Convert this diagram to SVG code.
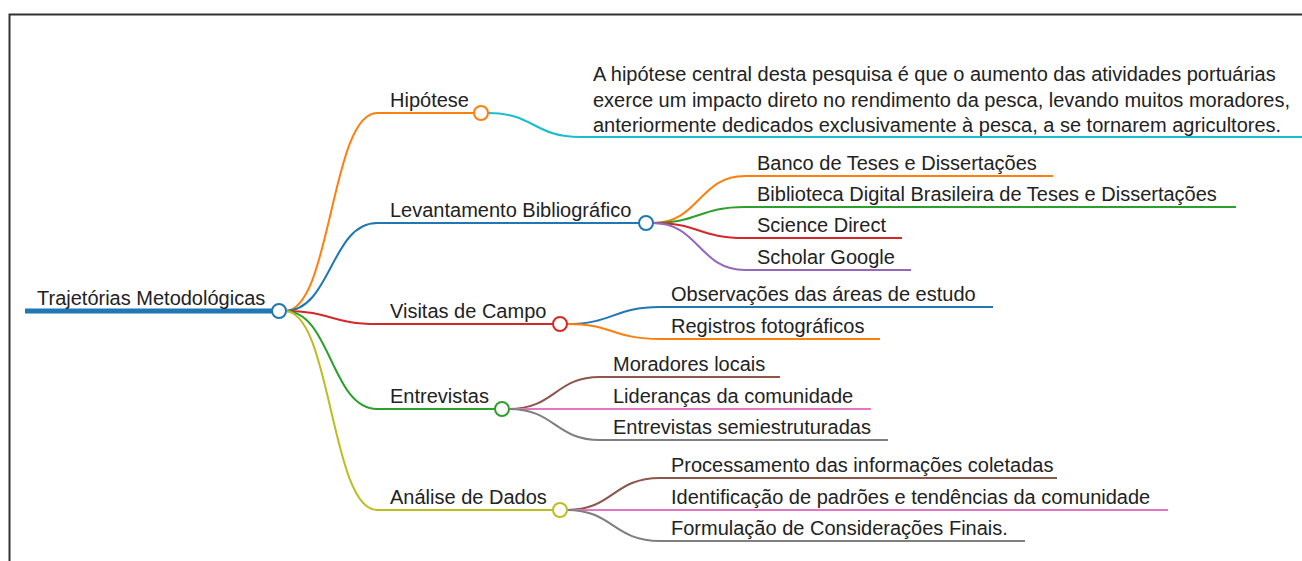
<svg xmlns="http://www.w3.org/2000/svg" width="1302" height="561" viewBox="0 0 1302 561">
<style>
text{font-family:"Liberation Sans",Arial,sans-serif;font-size:20px;fill:#222}
.l{fill:none;stroke-width:2}
.c{fill:#fff;stroke-width:2}
.b1{stroke:#1f77b4}.b2{stroke:#ff7f0e}.b3{stroke:#2ca02c}.b4{stroke:#d62728}.b5{stroke:#9467bd}
.b6{stroke:#8c564b}.b7{stroke:#e377c2}.b8{stroke:#7f7f7f}.b9{stroke:#bcbd22}.b10{stroke:#17becf}
</style>
<rect width="1302" height="561" fill="#fff"/>
<path d="M9.5 561 V14.5 H1302" fill="none" stroke="#333" stroke-width="2"/>
<g id="connectors">
<path class="l b2" d="M285 311 C331 311 331 113 377 113 H474"/>
<path class="l b1" d="M285 311 C331 311 331 223 377 223 H639"/>
<path class="l b4" d="M285 311 C331 311 331 324 377 324 H553"/>
<path class="l b3" d="M285 311 C331 311 331 409 377 409 H495"/>
<path class="l b9" d="M285 311 C331 311 331 510 377 510 H553"/>
<path class="l b10" d="M488 113 C534 113 534 137 580 137 H1302"/>
<path class="l b2" d="M653 223 C699 223 699 176 745 176 H1053"/>
<path class="l b3" d="M653 223 C699 223 699 207 745 207 H1236"/>
<path class="l b4" d="M653 223 C699 223 699 238 745 238 H902"/>
<path class="l b5" d="M653 223 C699 223 699 270 745 270 H911"/>
<path class="l b1" d="M567 324 C613 324 613 307 660 307 H993"/>
<path class="l b2" d="M567 324 C613 324 613 339 660 339 H880"/>
<path class="l b6" d="M509 409 C555 409 555 377 600 377 H780"/>
<path class="l b7" d="M509 409 C555 409 555 409 600 409 H871"/>
<path class="l b8" d="M509 409 C555 409 555 440 600 440 H888"/>
<path class="l b6" d="M567 510 C613 510 613 478 660 478 H1057"/>
<path class="l b7" d="M567 510 C613 510 613 510 660 510 H1168"/>
<path class="l b8" d="M567 510 C613 510 613 541 660 541 H1025"/>
</g>
<g id="root">
<line x1="25" y1="311" x2="273" y2="311" stroke="#1f77b4" stroke-width="5"/>
<text x="37" y="305">Trajetórias Metodológicas</text>
<circle class="c b1" cx="279" cy="311" r="7"/>
</g>
<g id="hipotese">
<text x="390" y="107">Hipótese</text>
<circle class="c b2" cx="481" cy="113" r="7"/>
</g>
<g id="hipotese-texto">
<text x="593" y="81">A hipótese central desta pesquisa é que o aumento das atividades portuárias</text>
<text x="593" y="106.5">exerce um impacto direto no rendimento da pesca, levando muitos moradores,</text>
<text x="593" y="132">anteriormente dedicados exclusivamente à pesca, a se tornarem agricultores.</text>
</g>
<g id="levantamento">
<text x="390" y="217">Levantamento Bibliográfico</text>
<circle class="c b1" cx="646" cy="223" r="7"/>
</g>
<g id="banco"><text x="757" y="170">Banco de Teses e Dissertações</text></g>
<g id="biblioteca"><text x="757" y="201">Biblioteca Digital Brasileira de Teses e Dissertações</text></g>
<g id="science"><text x="757" y="232">Science Direct</text></g>
<g id="scholar"><text x="757" y="264">Scholar Google</text></g>
<g id="visitas">
<text x="390" y="318">Visitas de Campo</text>
<circle class="c b4" cx="560" cy="324" r="7"/>
</g>
<g id="observacoes"><text x="671" y="301">Observações das áreas de estudo</text></g>
<g id="registros"><text x="671" y="333">Registros fotográficos</text></g>
<g id="entrevistas">
<text x="390" y="403">Entrevistas</text>
<circle class="c b3" cx="502" cy="409" r="7"/>
</g>
<g id="moradores"><text x="613" y="371">Moradores locais</text></g>
<g id="liderancas"><text x="613" y="403">Lideranças da comunidade</text></g>
<g id="semiestruturadas"><text x="613" y="434">Entrevistas semiestruturadas</text></g>
<g id="analise">
<text x="390" y="504">Análise de Dados</text>
<circle class="c b9" cx="560" cy="510" r="7"/>
</g>
<g id="processamento"><text x="671" y="472">Processamento das informações coletadas</text></g>
<g id="identificacao"><text x="671" y="504">Identificação de padrões e tendências da comunidade</text></g>
<g id="formulacao"><text x="671" y="535">Formulação de Considerações Finais.</text></g>
</svg>
